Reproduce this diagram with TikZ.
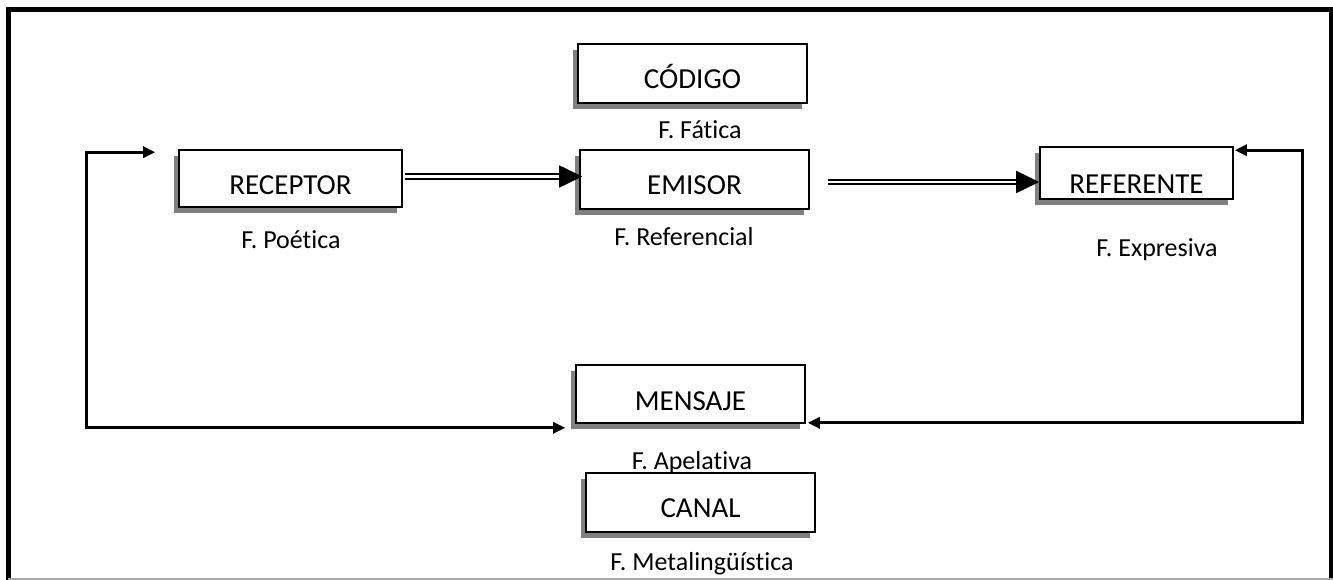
\documentclass[tikz,border=0pt]{standalone}
\usepackage{fontspec}
\setmainfont[Ligatures=NoCommon]{Carlito}
\usetikzlibrary{arrows.meta,shadows,calc}
\begin{document}
\begin{tikzpicture}[x=1pt,y=-1pt,
  box/.style={draw=black, line width=1.6pt, fill=white, rectangle, inner sep=0pt,
    text depth=0pt, text height=32pt, font=\fontsize{29}{34}\selectfont,
    drop shadow={shadow xshift=-5pt, shadow yshift=-6pt, fill=black!50, opacity=1}},
  lbl/.style={anchor=base, inner sep=0pt, font=\fontsize{26}{30}\selectfont},
  fb/.style={line width=3.2pt, {Triangle[length=12pt,width=11pt]}-{Triangle[length=12pt,width=11pt]}},
  dbl/.style={double, double distance=2.6pt, line width=1.8pt, -{Triangle[length=23pt,width=22pt]}}
]
\useasboundingbox (0,0) rectangle (1333,580);
% frame
\draw[line width=5pt] (8,585) -- (8,9.5) -- (1331,9.5) -- (1331,585);
\draw[black!35, line width=1.5pt] (8,579) -- (1333,579);

% labels
\node[lbl] (lfat) at (700,139) {F. Fática};
\node[lbl] (lpoe) at (291,248) {F. Poética};
\node[lbl] (lref) at (684,245) {F. Referencial};
\node[lbl] (lexp) at (1157,256) {F. Expresiva};
\node[lbl] (lape) at (692,469.5) {F. Apelativa};
\node[lbl] (lmet) at (702,570) {F. Metalingüística};

% boxes
\node[box, minimum width=229pt, minimum height=59pt, text height=31pt] (cod) at (692.5,73.5) {CÓDIGO};
\node[box, minimum width=223pt, minimum height=57pt, text height=33pt] (rec) at (290.5,178.5) {RECEPTOR};
\node[box, minimum width=229pt, minimum height=59pt, text height=31pt] (emi) at (694.5,179.5) {EMISOR};
\node[box, minimum width=193pt, minimum height=52pt, text height=41pt] (ref) at (1136.5,173) {REFERENTE};
\node[box, minimum width=229pt, minimum height=58pt, text height=32pt] (men) at (690.5,394) {MENSAJE};
\node[box, minimum width=229pt, minimum height=59pt, text height=29pt] (can) at (700.5,502.5) {CANAL};

% double arrows
\draw[dbl] ($(rec.east)+(2.5,-2)$) -- ($(emi.west)+(3,-3)$);
\coordinate (d2) at ($(emi.east)+(18,2.5)$);
\draw[dbl] (d2) -- (d2 -| ref.west);

% feedback loops
\coordinate (lt) at ($(rec.north west)+(-23,3)$);
\coordinate (lb) at ($(men.south west)+(-10,4)$);
\draw[fb] (lt) -- ++(-69,0) |- (lb);
\coordinate (rt) at ($(ref.north east)+(1,4)$);
\coordinate (rb) at ($(men.south east)+(2,-1)$);
\draw[fb] (rt) -- ++(68,0) |- (rb);
\end{tikzpicture}
\end{document}
